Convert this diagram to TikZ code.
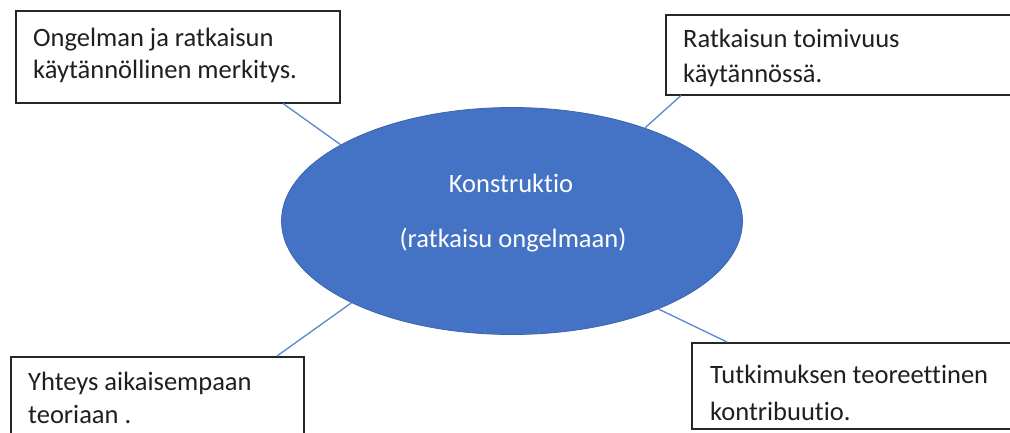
\documentclass[tikz,border=0pt]{standalone}
\usepackage{fontspec}
\setmainfont{Carlito}[Ligatures={NoCommon}]
\usetikzlibrary{shapes.geometric,calc}
\definecolor{officeblue}{HTML}{4472C4}
\definecolor{officeedge}{HTML}{3A65B0}
\definecolor{linkblue}{HTML}{5B86D0}
\tikzset{
  boxframe/.style={draw=black!85, line width=1.5pt, fill=white, rectangle, inner sep=0pt, anchor=north west},
  boxtext/.style={anchor=base west, inner sep=0pt, align=left, font=\fontsize{26.5}{33}\selectfont, text=black!88},
  linktext/.style={anchor=base, inner sep=0pt, font=\fontsize{26.5}{30}\selectfont, text=white},
  link/.style={draw=linkblue, line width=1.3pt},
}
\begin{document}
\begin{tikzpicture}[x=1pt,y=-1pt]
\useasboundingbox (0,0) rectangle (1010,432);
\clip (0,0) rectangle (1010,432);
\fill[white] (0,0) rectangle (1010,432);
% central ellipse
\node[ellipse, fill=officeblue, draw=officeedge, line width=0.8pt, minimum width=461pt, minimum height=227pt, inner sep=0pt] (ell) at (512,221) {};
\node[linktext] (t1) at (511,192) {Konstruktio};
\node[linktext] (t2) at (513,247) {(ratkaisu ongelmaan)};
% boxes
\node[boxframe, minimum width=324pt, minimum height=92pt] (tl) at (15,10) {};
\node[boxframe, minimum width=360pt, minimum height=80pt] (tr) at (665,14) {};
\node[boxframe, minimum width=293pt, minimum height=100pt] (bl) at (10,356) {};
\node[boxframe, minimum width=340pt, minimum height=86pt] (br) at (691,342) {};
% box texts (anchor is at the baseline of the last line)
\node[boxtext] (tlx) at (33,78) {Ongelman ja ratkaisun\\[-1pt]käytännöllinen merkitys.};
\node[boxtext] (trx) at (683,82) {Ratkaisun toimivuus\\[2pt]käytännössä.};
\node[boxtext] (blx) at (28,423) {Yhteys aikaisempaan\\teoriaan .};
\node[boxtext] (brx) at (710,420) {Tutkimuksen teoreettinen\\[4pt]kontribuutio.};
% connectors
\draw[link] ($(tl.south west)+(268,0)$) -- (ell.156.8);
\draw[link] ($(tr.south west)+(16,0)$) -- (ell.35);
\draw[link] ($(bl.north west)+(267,0)$) -- (ell.207);
\draw[link] ($(br.north west)+(36,0)$) -- (ell.329);
\end{tikzpicture}
\end{document}
